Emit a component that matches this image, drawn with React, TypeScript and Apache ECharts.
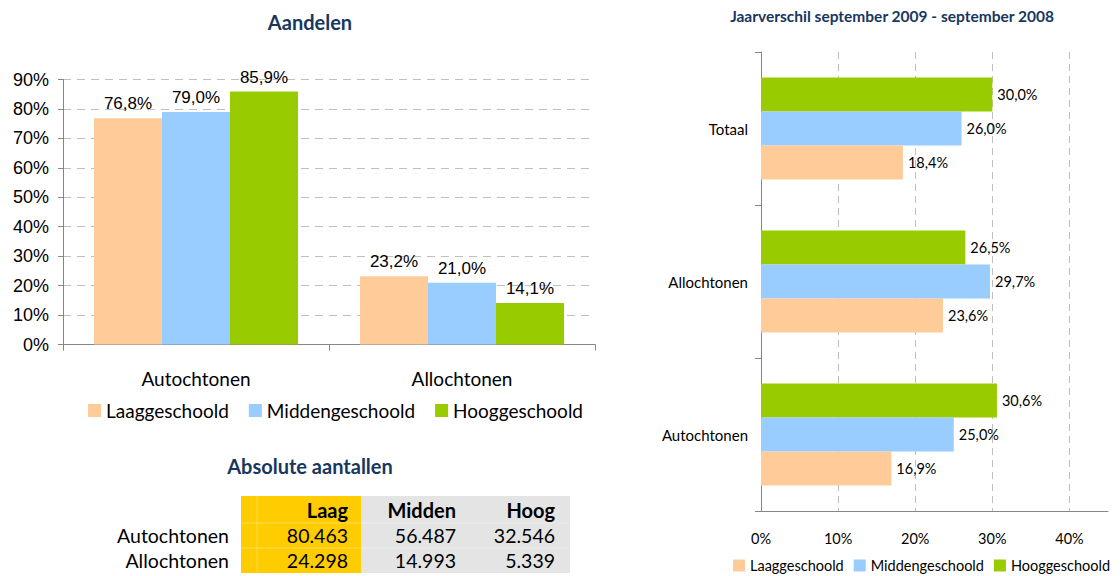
import React, { useEffect, useRef } from "react";
import * as echarts from "echarts";

const seriesNames = ["Laaggeschoold", "Middengeschoold", "Hooggeschoold"];
const seriesColors = ["#FFCC99", "#99CCFF", "#99CC00"];

// Left chart: Aandelen
const shareCategories = ["Autochtonen", "Allochtonen"];
const laagShare = [76.8, 23.2];
const middenShare = [79.0, 21.0];
const hoogShare = [85.9, 14.1];

// Right chart: Jaarverschil
const diffCategories = ["Autochtonen", "Allochtonen", "Totaal"];
const laagDiff = [16.9, 23.6, 18.4];
const middenDiff = [25.0, 29.7, 26.0];
const hoogDiff = [30.6, 26.5, 30.0];

// Table: Absolute aantallen
const tableHeaders = ["Laag", "Midden", "Hoog"];
const tableRows = ["Autochtonen", "Allochtonen"];
const tableLaag = [80463, 24298];
const tableMidden = [56487, 14993];
const tableHoog = [32546, 5339];

const titleColor = "#17375E";
const axisGray = "#868686";
const gridGray = "#BFBFBF";
const uiFont = "Lato, 'Noto Sans', sans-serif";
const arialFont = "'Liberation Sans', Arial, sans-serif";

const pct = (v: number) => v.toFixed(1).replace(".", ",") + "%";
const thousands = (v: number) => v.toString().replace(/\B(?=(\d{3})+(?!\d))/g, ".");

export default function App() {
  const ref = useRef<HTMLDivElement>(null);

  useEffect(() => {
    if (!ref.current) return;
    const chart = echarts.init(ref.current, null, { renderer: "svg" });

    const shareData = [laagShare, middenShare, hoogShare];
    const diffData = [laagDiff, middenDiff, hoogDiff];

    const leftSeries = shareData.map((d, i) => ({
      name: seriesNames[i],
      type: "bar",
      xAxisIndex: 0,
      yAxisIndex: 0,
      data: d,
      barWidth: 68,
      barGap: "0%",
      itemStyle: { color: seriesColors[i] },
      label: {
        show: true,
        position: "top",
        distance: 6,
        fontFamily: arialFont,
        fontSize: 17,
        color: "#000",
        formatter: (p: any) => pct(p.value),
      },
    }));

    // horizontal bars: first series is drawn at the top of each group,
    // so add them in reverse order (Hoog on top, Laag at the bottom)
    const rightSeries = [2, 1, 0].map((i) => ({
      name: seriesNames[i],
      type: "bar",
      xAxisIndex: 1,
      yAxisIndex: 1,
      data: diffData[i],
      barWidth: 34,
      barGap: "0%",
      itemStyle: { color: seriesColors[i] },
      label: {
        show: true,
        position: "right",
        distance: 5,
        fontFamily: uiFont,
        fontSize: 14.5,
        color: "#000",
        formatter: (p: any) => pct(p.value),
      },
    }));

    // table graphics
    const tX = 241;
    const tY = 496;
    const colRight = [348, 456, 555];
    const rowCenters = [510, 535, 560];
    const tableGraphics: any[] = [
      { type: "rect", shape: { x: tX, y: tY, width: 120, height: 77 }, style: { fill: "#FFCC00" } },
      { type: "rect", shape: { x: 361, y: tY, width: 209, height: 77 }, style: { fill: "#E4E4E4" } },
      { type: "line", shape: { x1: 257, y1: tY, x2: 257, y2: tY + 77 }, style: { stroke: "#FFD84D", lineWidth: 1 } },
      { type: "line", shape: { x1: tX, y1: 523, x2: 570, y2: 523 }, style: { stroke: "rgba(255,255,255,0.35)", lineWidth: 1 } },
      { type: "line", shape: { x1: tX, y1: 548, x2: 570, y2: 548 }, style: { stroke: "rgba(255,255,255,0.35)", lineWidth: 1 } },
    ];
    tableHeaders.forEach((h, i) => {
      tableGraphics.push({
        type: "text",
        x: colRight[i],
        y: rowCenters[0],
        style: {
          text: h,
          align: "right",
          verticalAlign: "middle",
          textAlign: "right",
          textVerticalAlign: "middle",
          fontFamily: uiFont,
          fontSize: 20,
          fontWeight: "bold",
          fill: "#000",
        },
      });
    });
    const cols = [tableLaag, tableMidden, tableHoog];
    tableRows.forEach((r, ri) => {
      tableGraphics.push({
        type: "text",
        x: 229,
        y: rowCenters[ri + 1],
        style: {
          text: r,
          align: "right",
          verticalAlign: "middle",
          textAlign: "right",
          textVerticalAlign: "middle",
          fontFamily: uiFont,
          fontSize: 19.5,
          fill: "#000",
        },
      });
      cols.forEach((c, ci) => {
        tableGraphics.push({
          type: "text",
          x: colRight[ci],
          y: rowCenters[ri + 1],
          style: {
            text: thousands(c[ri]),
            align: "right",
            verticalAlign: "middle",
            textAlign: "right",
            textVerticalAlign: "middle",
            fontFamily: uiFont,
            fontSize: 19.5,
            fill: "#000",
          },
        });
      });
    });

    const titleText = (text: string, x: number, y: number, size: number) => ({
      type: "text",
      x,
      y,
      style: {
        text,
        align: "center",
        verticalAlign: "middle",
        textAlign: "center",
        textVerticalAlign: "middle",
        fontFamily: uiFont,
        fontSize: size,
        fontWeight: "bold",
        fill: titleColor,
      },
    });

    chart.setOption({
      animation: false,
      backgroundColor: "#FFFFFF",
      graphic: [
        titleText("Aandelen", 310, 22, 20),
        titleText("Absolute aantallen", 310, 466, 20),
        titleText("Jaarverschil september 2009 - september 2008", 892, 16, 15.5),
        ...tableGraphics,
      ],
      legend: [
        {
          data: seriesNames,
          left: 88,
          top: 401,
          padding: 0,
          itemWidth: 13,
          itemHeight: 13,
          itemGap: 20,
          icon: "rect",
          textStyle: { fontFamily: uiFont, fontSize: 19, color: "#000" },
        },
        {
          data: seriesNames,
          left: 733,
          top: 558,
          padding: 0,
          itemWidth: 12,
          itemHeight: 12,
          itemGap: 10,
          icon: "rect",
          textStyle: { fontFamily: uiFont, fontSize: 14.5, color: "#000" },
        },
      ],
      grid: [
        { left: 63, top: 79.5, width: 532, height: 265, containLabel: false },
        { left: 761, top: 52, width: 347, height: 459, containLabel: false },
      ],
      xAxis: [
        {
          type: "category",
          gridIndex: 0,
          data: shareCategories,
          axisLine: { show: true, lineStyle: { color: axisGray } },
          axisTick: { show: true, length: 6, lineStyle: { color: axisGray } },
          axisLabel: { margin: 24, fontFamily: uiFont, fontSize: 19, color: "#000" },
          splitLine: { show: false },
        },
        {
          type: "value",
          gridIndex: 1,
          min: 0,
          max: 45,
          interval: 10,
          axisLine: { show: true, lineStyle: { color: axisGray } },
          axisTick: { show: false },
          axisLabel: {
            margin: 20,
            fontFamily: uiFont,
            fontSize: 14.5,
            color: "#000",
            showMaxLabel: false,
            formatter: (v: number) => (v % 10 === 0 ? v + "%" : ""),
          },
          splitLine: {
            show: true,
            showMinLine: false,
            showMaxLine: false,
            lineStyle: { color: gridGray, type: [7, 5] },
          },
        },
      ],
      yAxis: [
        {
          type: "value",
          gridIndex: 0,
          min: 0,
          max: 90,
          interval: 10,
          axisLine: { show: true, lineStyle: { color: axisGray } },
          axisTick: { show: true, length: 5, lineStyle: { color: axisGray } },
          axisLabel: {
            margin: 14,
            fontFamily: arialFont,
            fontSize: 18,
            color: "#000",
            formatter: "{value}%",
          },
          splitLine: {
            show: true,
            showMinLine: false,
            lineStyle: { color: gridGray, type: [8, 6] },
          },
        },
        {
          type: "category",
          gridIndex: 1,
          data: diffCategories,
          axisLine: { show: true, lineStyle: { color: axisGray } },
          axisTick: { show: true, length: 6, lineStyle: { color: axisGray } },
          axisLabel: { margin: 13, fontFamily: uiFont, fontSize: 15, color: "#000" },
          splitLine: { show: false },
        },
      ],
      series: [...leftSeries, ...rightSeries],
    } as any);

    return () => chart.dispose();
  }, []);

  return (
    <div
      ref={ref}
      style={{ position: "absolute", left: 0, top: 0, width: 1120, height: 576 }}
    />
  );
}
